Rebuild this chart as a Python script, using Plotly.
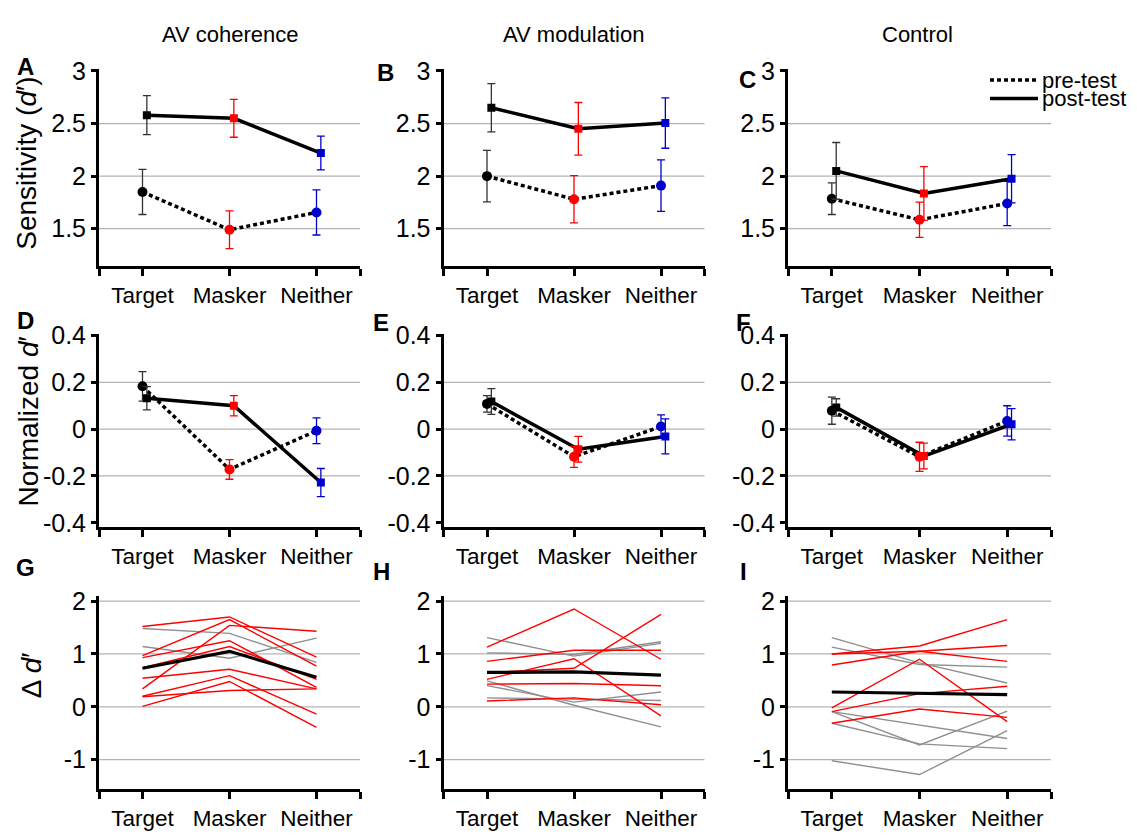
import plotly.graph_objects as go

W, H = 1137, 835
FONT = "Liberation Sans, Arial, Helvetica, sans-serif"

categories = ["Target", "Masker", "Neither"]
col_titles = ["AV coherence", "AV modulation", "Control"]
panel_letters = ["A", "B", "C", "D", "E", "F", "G", "H", "I"]
row_ytitles = ["Sensitivity (<i>d</i>′)", "Normalized <i>d</i>′", "Δ <i>d</i>′"]

# ---- rows 1 and 2: group means (pre/post) with error bars ----
A_pre = [1.85, 1.49, 1.655]
A_pre_err = [0.215, 0.18, 0.215]
A_post = [2.58, 2.55, 2.22]
A_post_err = [0.185, 0.18, 0.16]

B_pre = [2.00, 1.78, 1.91]
B_pre_err = [0.245, 0.225, 0.245]
B_post = [2.65, 2.45, 2.505]
B_post_err = [0.23, 0.25, 0.24]

C_pre = [1.785, 1.585, 1.74]
C_pre_err = [0.15, 0.167, 0.21]
C_post = [2.05, 1.835, 1.975]
C_post_err = [0.27, 0.255, 0.23]

D_pre = [0.183, -0.172, -0.007]
D_pre_err = [0.063, 0.042, 0.055]
D_post = [0.132, 0.100, -0.228]
D_post_err = [0.05, 0.043, 0.06]

E_pre = [0.108, -0.118, 0.011]
E_pre_err = [0.035, 0.045, 0.05]
E_post = [0.118, -0.086, -0.031]
E_post_err = [0.055, 0.055, 0.075]

F_pre = [0.079, -0.118, 0.035]
F_pre_err = [0.058, 0.062, 0.065]
F_post = [0.093, -0.115, 0.021]
F_post_err = [0.037, 0.055, 0.067]

# ---- row 3: individual subjects' change (red = improved group, gray = others) ----
G_red = [
    [1.52, 1.70, 0.94], [0.97, 1.65, 0.77], [0.34, 1.54, 1.43],
    [0.93, 1.25, 0.37], [0.74, 1.14, 0.52], [0.54, 0.71, 0.34],
    [0.20, 0.59, -0.14], [0.01, 0.48, -0.39], [0.19, 0.31, 0.34],
]
G_gray = [[1.48, 1.39, 0.84], [1.14, 0.92, 1.30]]
G_mean = [0.73, 1.05, 0.56]

H_red = [
    [1.13, 1.85, 0.90], [0.86, 1.07, 1.07], [0.65, 0.73, 1.75],
    [0.52, 0.91, -0.17], [0.43, 0.44, 0.40], [0.11, 0.17, 0.04],
]
H_gray = [
    [1.31, 0.96, 1.20], [1.02, 0.99, 1.23], [0.49, 0.03, -0.38],
    [0.40, 0.09, 0.28], [0.17, 0.15, 0.12],
]
H_mean = [0.65, 0.66, 0.60]

I_red = [
    [1.00, 1.15, 1.65], [0.79, 1.05, 1.16], [1.00, 1.05, 0.86],
    [-0.02, 0.90, -0.28], [-0.09, 0.25, 0.39], [-0.31, -0.04, -0.20],
]
I_gray = [
    [1.31, 0.83, 0.45], [1.13, 0.80, 0.75], [-0.09, -0.34, -0.60],
    [-0.09, -0.72, -0.08], [-0.31, -0.70, -0.79], [-1.02, -1.28, -0.45],
]
I_mean = [0.28, 0.26, 0.23]

legend_labels = ["pre-test", "post-test"]

# ---- styling / layout constants ----
cat_colors = ["#000000", "#ff0000", "#0000cc"]
err_colors = ["#333333", "#ff0000", "#0000cc"]
DOT = "4px,3px"
POST_SHIFT = 0.05
xpos = [1, 2, 3]

cols_px = [(99, 360), (443.5, 704.5), (788, 1051)]
rows_px = [(58, 260), (330, 528.3), (599.3, 798.3)]
row_ranges = [[1.147, 3.015], [-0.417, 0.407], [-1.56, 2.1]]
row_tickvals = [[1.5, 2, 2.5, 3], [-0.4, -0.2, 0, 0.2, 0.4], [-1, 0, 1, 2]]
row_ticktext = [["1.5", "2", "2.5", "3"], ["-0.4", "-0.2", "0", "0.2", "0.4"], ["-1", "0", "1", "2"]]
row_grid = [[1.5, 2, 2.5], [-0.2, 0, 0.2], [-1, 0, 1, 2]]

means = [
    (A_pre, A_pre_err, A_post, A_post_err),
    (B_pre, B_pre_err, B_post, B_post_err),
    (C_pre, C_pre_err, C_post, C_post_err),
    (D_pre, D_pre_err, D_post, D_post_err),
    (E_pre, E_pre_err, E_post, E_post_err),
    (F_pre, F_pre_err, F_post, F_post_err),
]
indiv = [(G_red, G_gray, G_mean), (H_red, H_gray, H_mean), (I_red, I_gray, I_mean)]

fig = go.Figure()
layout = dict(
    width=W, height=H, margin=dict(l=0, r=0, t=0, b=0),
    paper_bgcolor="white", plot_bgcolor="white", showlegend=False,
    font=dict(family=FONT, color="black"),
)
shapes = []
annotations = []

def px2x(p):
    return p / W

def px2y(p):
    return 1 - p / H

for r in range(3):
    for c in range(3):
        k = r * 3 + c + 1
        xa = "x" if k == 1 else f"x{k}"
        ya = "y" if k == 1 else f"y{k}"
        x0, x1 = cols_px[c]
        y0, y1 = rows_px[r]
        layout["xaxis" if k == 1 else f"xaxis{k}"] = dict(
            domain=[px2x(x0), px2x(x1)], range=[0.5, 3.5], anchor=ya,
            tickvals=[0.5, 1, 2, 3, 3.5], ticktext=[""] + categories + [""],
            ticks="outside", ticklen=7, tickwidth=2.5, tickcolor="black",
            showline=True, linewidth=3, linecolor="black",
            showgrid=False, zeroline=False, fixedrange=True,
            tickfont=dict(size=22.5, family=FONT),
        )
        layout["yaxis" if k == 1 else f"yaxis{k}"] = dict(
            domain=[px2y(y1), px2y(y0)], range=row_ranges[r], anchor=xa,
            tickvals=row_tickvals[r], ticktext=row_ticktext[r],
            ticks="outside", ticklen=5, tickwidth=2.5, tickcolor="black",
            showline=True, linewidth=3, linecolor="black",
            showgrid=False, zeroline=False, fixedrange=True,
            tickfont=dict(size=25, family=FONT),
        )
        for g in row_grid[r]:
            shapes.append(dict(type="line", xref=f"{xa} domain", yref=ya,
                               x0=0, x1=1, y0=g, y1=g, layer="below",
                               line=dict(color="#b4b4b4", width=1.3)))

        if r < 2:
            pre, pre_e, post, post_e = means[k - 1]
            xpost = [x + POST_SHIFT for x in xpos]
            fig.add_trace(go.Scatter(x=xpos, y=pre, mode="lines", xaxis=xa, yaxis=ya,
                                     line=dict(color="black", width=3.5, dash=DOT)))
            fig.add_trace(go.Scatter(x=xpost, y=post, mode="lines", xaxis=xa, yaxis=ya,
                                     line=dict(color="black", width=3.5)))
            for i in range(3):
                fig.add_trace(go.Scatter(
                    x=[xpos[i]], y=[pre[i]], mode="markers", xaxis=xa, yaxis=ya,
                    marker=dict(symbol="circle", size=10, color=cat_colors[i]),
                    error_y=dict(type="data", array=[pre_e[i]], color=err_colors[i],
                                 thickness=1.3, width=4)))
            for i in range(3):
                fig.add_trace(go.Scatter(
                    x=[xpost[i]], y=[post[i]], mode="markers", xaxis=xa, yaxis=ya,
                    marker=dict(symbol="square", size=8, color=cat_colors[i]),
                    error_y=dict(type="data", array=[post_e[i]], color=err_colors[i],
                                 thickness=1.3, width=4)))
        else:
            reds, grays, mean = indiv[c]
            for s in grays:
                fig.add_trace(go.Scatter(x=xpos, y=s, mode="lines", xaxis=xa, yaxis=ya,
                                         line=dict(color="#8f8f8f", width=1.4)))
            for s in reds:
                fig.add_trace(go.Scatter(x=xpos, y=s, mode="lines", xaxis=xa, yaxis=ya,
                                         line=dict(color="#ff0000", width=1.4)))
            fig.add_trace(go.Scatter(x=xpos, y=mean, mode="lines", xaxis=xa, yaxis=ya,
                                     line=dict(color="black", width=3.2)))

# column titles
title_x = [230, 573, 918]
for c in range(3):
    annotations.append(dict(text=col_titles[c], xref="paper", yref="paper",
                            x=px2x(title_x[c]), y=px2y(22), showarrow=False,
                            xanchor="center", yanchor="middle",
                            font=dict(size=22, family=FONT)))

# panel letters
letter_pos = [(25, 55), (385, 61), (747, 68), (25, 316), (381, 318), (743, 318),
              (25, 570), (381, 574), (743, 574)]
for L, (lx, ly) in zip(panel_letters, letter_pos):
    annotations.append(dict(text=f"<b>{L}</b>", xref="paper", yref="paper",
                            x=px2x(lx), y=px2y(ly), showarrow=False,
                            xanchor="center", yanchor="middle",
                            font=dict(size=24, family=FONT)))

# y-axis titles (rotated)
ytitle_pos = [(27, 155), (28, 420), (31, 681)]
for t, (tx, ty) in zip(row_ytitles, ytitle_pos):
    annotations.append(dict(text=t, xref="paper", yref="paper",
                            x=px2x(tx), y=px2y(ty), showarrow=False, textangle=-90,
                            xanchor="center", yanchor="middle",
                            font=dict(size=28, family=FONT)))

# legend (inside panel C)
leg_y = [69, 88]
leg_dash = [DOT, "solid"]
for lab, ly, dsh in zip(legend_labels, leg_y, leg_dash):
    shapes.append(dict(type="line", xref="paper", yref="paper",
                       x0=px2x(990), x1=px2x(1038), y0=px2y(ly), y1=px2y(ly),
                       line=dict(color="black", width=3.5, dash=dsh)))
    annotations.append(dict(text=lab, xref="paper", yref="paper",
                            x=px2x(1040), y=px2y(ly), showarrow=False,
                            xanchor="left", yanchor="middle",
                            font=dict(size=22, family=FONT)))

layout["shapes"] = shapes
layout["annotations"] = annotations
fig.update_layout(**layout)
fig.write_html("out.html", config={"displayModeBar": False},
               post_script="document.body.style.margin='0';document.body.style.padding='0';")
